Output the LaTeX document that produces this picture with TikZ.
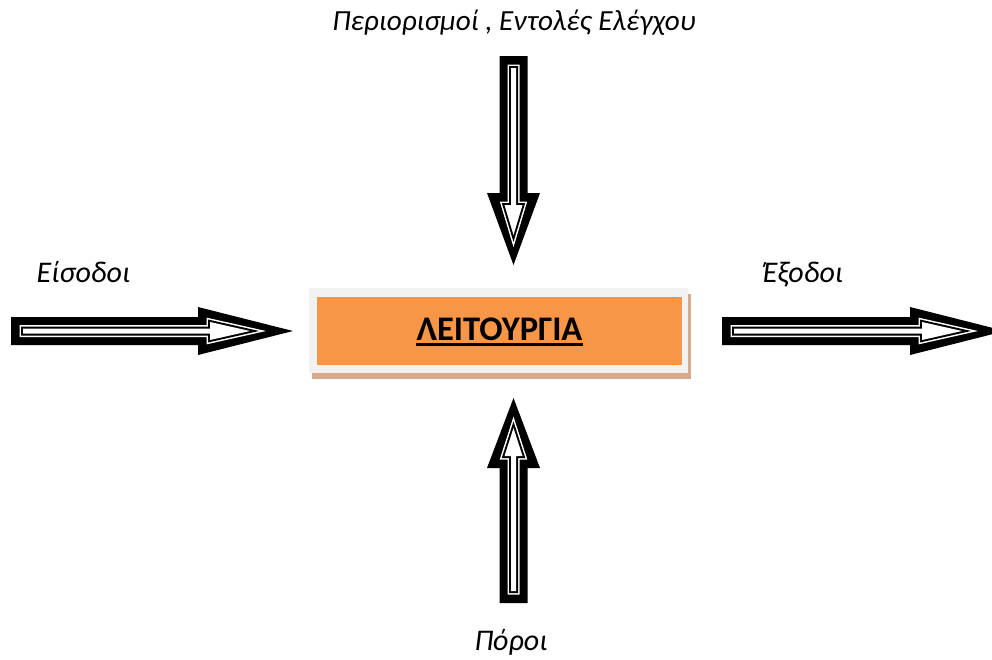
\documentclass[tikz,border=0pt]{standalone}
\usepackage{fontspec}
\setmainfont{Carlito}
\definecolor{boxorange}{HTML}{F79646}
\definecolor{boxframe}{HTML}{F2F2F2}
\definecolor{boxshadow}{HTML}{D6A98A}

% Block arrow with a doubled inner outline.
% #1 tail point, #2 rotation, #3 head base, #4 tip, #5 head half-width, #6 inner tip
\newcommand\blockarrow[6]{%
  \begin{scope}[shift={#1}, rotate=#2]
    \fill[black] (0,-14) -- (#3,-14) -- (#3,-#5) -- (#4,0) -- (#3,#5) -- (#3,14) -- (0,14) -- cycle;
    \draw[white, line width=7pt, miter limit=20]
      (12,-2.5) -- ({#3+12},-2.5) -- ({#3+12},-9) -- (#6,0) -- ({#3+12},9) -- ({#3+12},2.5) -- (12,2.5) -- cycle;
    \draw[black, line width=4pt, miter limit=20, fill=white]
      (12,-2.5) -- ({#3+12},-2.5) -- ({#3+12},-9) -- (#6,0) -- ({#3+12},9) -- ({#3+12},2.5) -- (12,2.5) -- cycle;
    \fill[white]
      (12,-2.5) -- ({#3+12},-2.5) -- ({#3+12},-9) -- (#6,0) -- ({#3+12},9) -- ({#3+12},2.5) -- (12,2.5) -- cycle;
  \end{scope}}

\begin{document}
\begin{tikzpicture}[x=1pt, y=-1pt,
  lbl/.style={font=\fontsize{30}{32}\selectfont\itshape, inner sep=0pt, anchor=base},
  title/.style={font=\fontsize{34.5}{36}\selectfont\bfseries, inner sep=0pt, anchor=base}]
\useasboundingbox (0,0) rectangle (992,659);
\clip (0,0) rectangle (992,659);

% tails of the four block arrows
\coordinate (inTail)   at (11,331);
\coordinate (outTail)  at (722,331);
\coordinate (ctlTail)  at (513.5,56);
\coordinate (resTail)  at (513.5,603);

% central function box: shadow, frame, orange face
\fill[boxshadow] (312,294) rectangle (691,379);
\fill[boxframe]  (309,288) rectangle (688,373);
\fill[boxorange] (317,297) rectangle (682,365);
\node[title] (func) at (499.5,340) {ΛΕΙΤΟΥΡΓΙΑ};
\draw[line width=3pt] ([yshift=-4.5pt]func.base west) -- ([yshift=-4.5pt]func.base east);

% arrows
\blockarrow{(inTail)}{0}{187}{282}{24}{239}
\blockarrow{(outTail)}{0}{188}{283}{24}{240}
\blockarrow{(ctlTail)}{-90}{137}{209}{26.5}{179}
\blockarrow{(resTail)}{90}{135}{205}{26.5}{175}

% labels
\node[lbl, font=\fontsize{29.2}{31}\selectfont\itshape] (ctl) at (514,30) {Περιορισμοί , Εντολές Ελέγχου};
\node[lbl] (in)  at (83.5,282) {Είσοδοι};
\node[lbl] (out) at (803,282)  {Έξοδοι};
\node[lbl] (res) at (511,650)  {Πόροι};
\end{tikzpicture}
\end{document}
